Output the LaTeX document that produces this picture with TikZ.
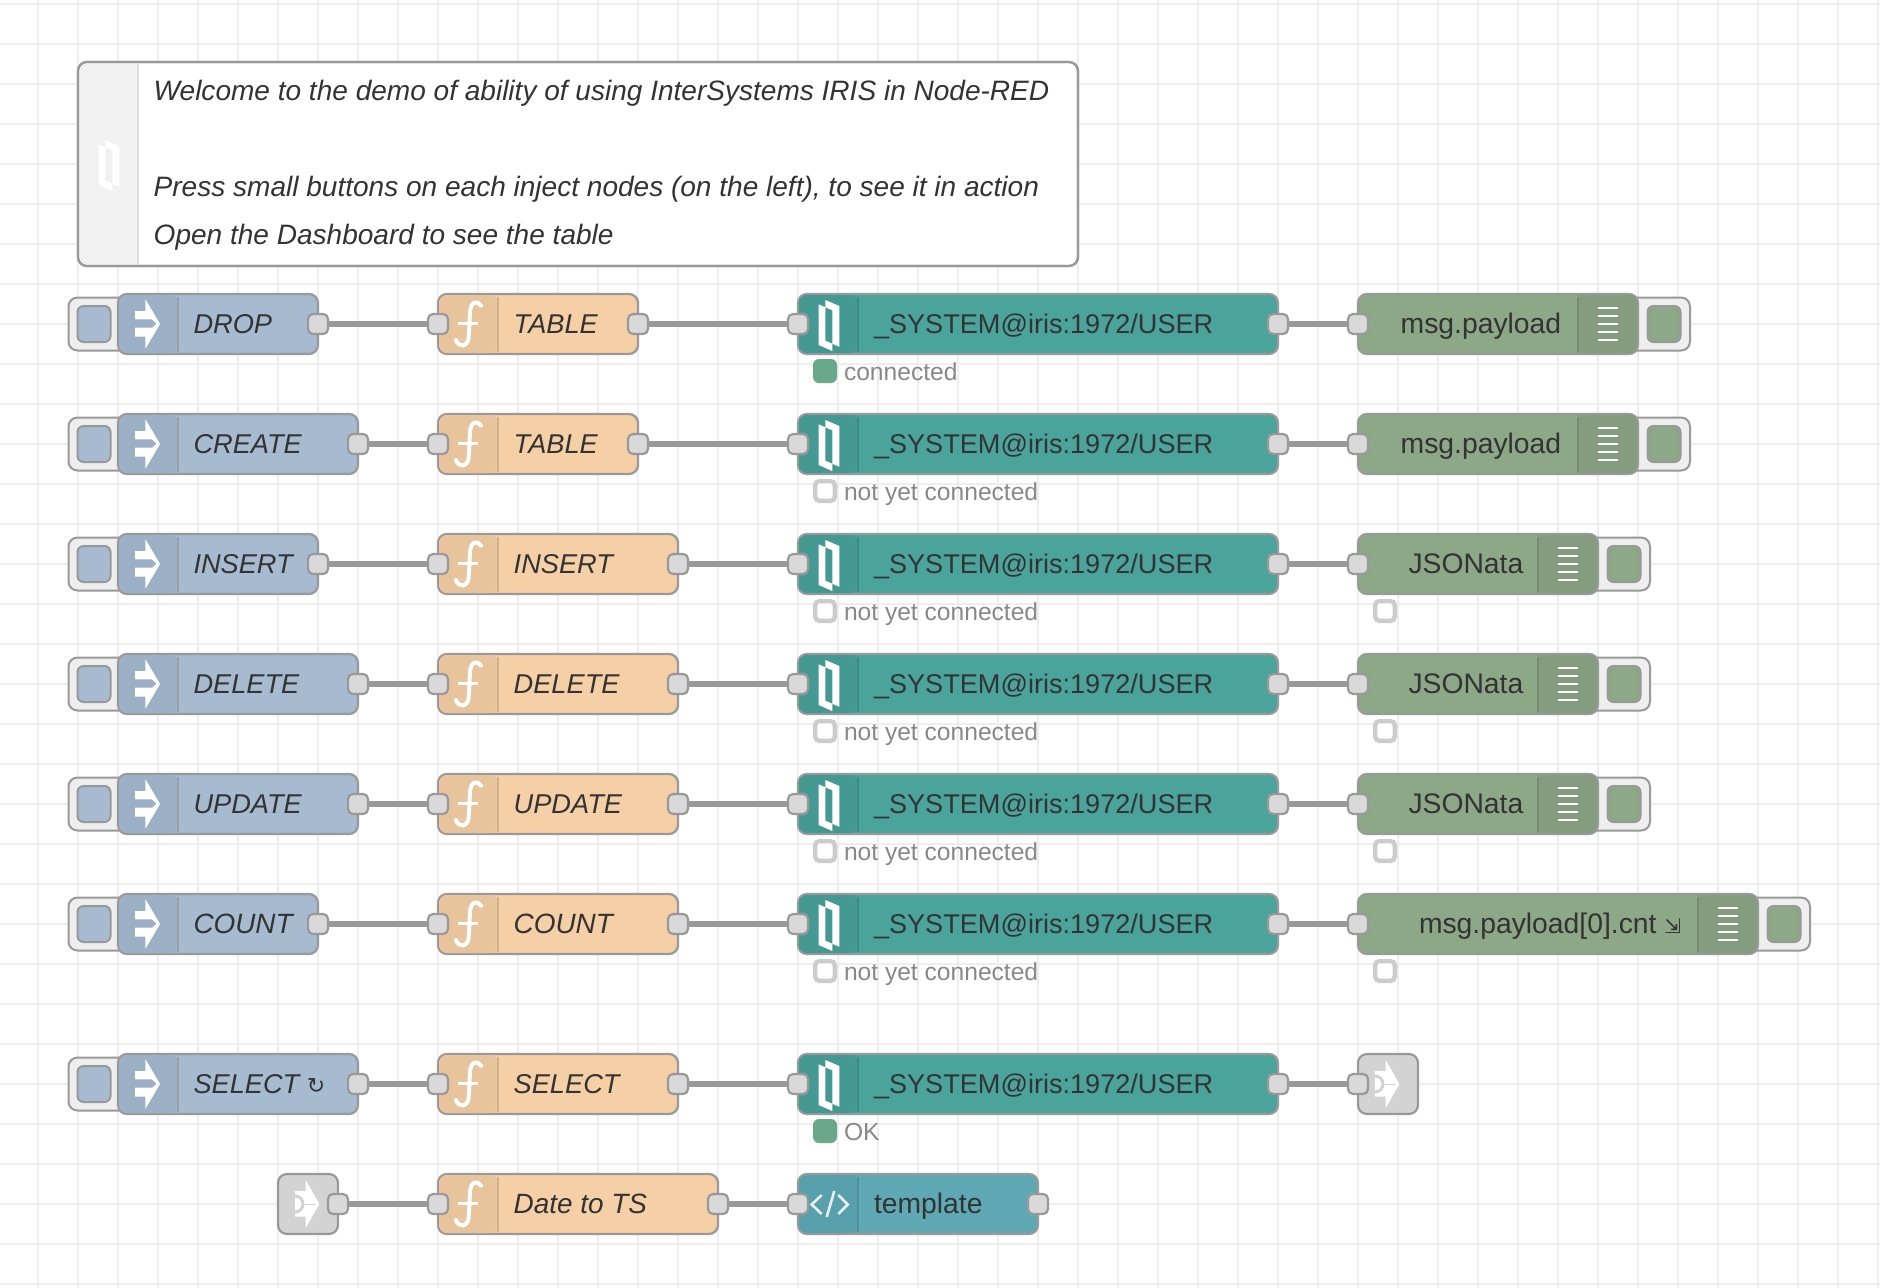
\documentclass[tikz,border=0pt]{standalone}
\usepackage{fontspec}
\setmainfont{Liberation Sans}
\newfontfamily\symfont{DejaVu Sans}
\definecolor{gridc}{HTML}{EEEEEE}
\definecolor{edgec}{HTML}{999999}
\definecolor{portc}{HTML}{D9D9D9}
\definecolor{txtc}{HTML}{333333}
\definecolor{statc}{HTML}{888888}
\definecolor{injc}{HTML}{A6BBCF}\definecolor{injd}{HTML}{9CB0C5}
\definecolor{fnc}{HTML}{F5CFA5}\definecolor{fnd}{HTML}{E8C49D}
\definecolor{irisc}{HTML}{4AA49C}\definecolor{irisd}{HTML}{449A92}
\definecolor{dbgc}{HTML}{8CA887}\definecolor{dbgd}{HTML}{839D7E}
\definecolor{tplc}{HTML}{5FA9B4}\definecolor{tpld}{HTML}{58A0AB}
\definecolor{linkc}{HTML}{D3D3D3}
\definecolor{okc}{HTML}{6AA88C}
\newcommand\widerlabel[1]{{\fontsize{27.9}{34}\selectfont #1}}
\tikzset{
 x=1pt,y=-1pt,
 nrbody/.style={draw=edgec,line width=2.2pt,rounded corners=9pt,inner sep=0pt,outer sep=0pt,minimum height=60pt},
 port/.style={draw=edgec,fill=portc,line width=2.2pt,rounded corners=5pt,inner sep=0pt,outer sep=0pt,minimum width=20pt,minimum height=20pt},
 wire/.style={draw=edgec,line width=5.5pt},
 btnbox/.style={draw=edgec,fill=gridc,line width=2pt,rounded corners=9pt,inner sep=0pt,outer sep=0pt,minimum height=53pt},
 btnface/.style={draw=edgec,line width=2pt,rounded corners=6pt,inner sep=0pt,outer sep=0pt,minimum width=33pt,minimum height=36pt},
 lbl/.style={anchor=base west,inner sep=0pt,outer sep=0pt,text=txtc,font=\fontsize{28.3}{34}\selectfont},
 irislbl/.style={lbl,font=\fontsize{27.1}{34}\selectfont},
 ilbl/.style={lbl,font=\fontsize{27.2}{34}\selectfont\itshape},
 notelbl/.style={lbl,font=\fontsize{28.04}{34}\selectfont\itshape},
 stat/.style={anchor=base west,inner sep=0pt,outer sep=0pt,text=statc,font=\fontsize{24.6}{30}\selectfont},
 dotfull/.style={fill=okc,rounded corners=6pt,inner sep=0pt,outer sep=0pt,minimum width=24pt,minimum height=24pt},
 dotempty/.style={draw=black!20,fill=white,line width=4.4pt,rounded corners=4pt,inner sep=0pt,outer sep=0pt,minimum width=19.6pt,minimum height=19.6pt},
}
% name, left, right, y, divider, fill, shade
\newcommand\nrbodyat[7]{%
 \node[nrbody,fill=#6,minimum width={#3pt-#2pt}] (#1) at ({(#2+#3)/2},#4) {};
 \fill[#7,rounded corners=8pt] (#5,#4-29) -- (#2+1,#4-29) -- (#2+1,#4+29) -- (#5,#4+29) -- cycle;
}
\newcommand\nrdivider[3]{\draw[#3,line width=1.6pt] (#1,#2-27.5) -- (#1,#2+27.5);}
\newcommand\irisglyph[3]{\begin{scope}[shift={(#1,#2)}]
 \fill[#3,even odd rule] (20.7,-19.7) -- (27.3,-16.7) -- (27.3,-24) -- (41.3,-18) -- (41.3,22.7) -- (34.3,19.7) -- (34.3,27) -- (20.7,21) -- cycle
 (27.3,-16.7) -- (34.3,-13.7) -- (34.3,19.7) -- (27.3,16.7) -- cycle;
\end{scope}}
\newcommand\injglyph[2]{\begin{scope}[shift={(#1,#2)}]
 \fill[white] (17,-13) -- (27.3,-13) -- (27.3,-25) -- (42,0) -- (27.3,25) -- (27.3,12.7) -- (17,12.7) -- (17,3.7) -- (34,3.7) -- (38.5,0) -- (34,-4.7) -- (17,-4.7) -- cycle;
\end{scope}}
\newcommand\fnglyph[2]{\begin{scope}[shift={(#1,#2)}]
 \draw[white,line width=4pt,line cap=round] (43,-18.3) .. controls (40.3,-23) and (33,-24) .. (32,-12.3) -- (30.7,12.7) .. controls (30.3,23.7) and (20.3,23.7) .. (18,16);
 \draw[white,line width=3.2pt] (20.3,-0.7) -- (40.3,-0.7);
\end{scope}}
\newcommand\listglyph[2]{\begin{scope}[shift={(#1,#2)}]
 \foreach \d in {-16,-8,0,8,16} \fill[white] (0,\d-1.35) rectangle (20,\d+1.35);
\end{scope}}
\newcommand\linkglyph[2]{\begin{scope}[shift={(#1,#2)}]
 \fill[white] (17,-13) -- (27.7,-13) -- (27.7,-24) -- (41.3,0) -- (27.7,24) -- (27.7,12.7) -- (17,12.7) -- cycle;
 \draw[linkc,line width=3pt] (17,-8) arc[start angle=-90,end angle=90,radius=8];
 \draw[linkc,line width=1pt] (25,0) -- (38,0);
\end{scope}}
% name, right, y, label
\newcommand\injnode[4]{%
 \node[btnbox,minimum width=70pt] (#1-box) at (103.5,#3) {};
 \node[btnface,fill=injc] (#1-btn) at (94,#3) {};
 \nrbodyat{#1}{118}{#2}{#3}{178}{injc}{injd}\nrdivider{178}{#3}{edgec!70!injd}
 \injglyph{118}{#3}
 \node[ilbl] (#1-t) at (193.5,#3+9.5) {#4};
 \node[port] (#1-o) at (#2,#3) {};
}
\newcommand\fnnode[4]{%
 \nrbodyat{#1}{438}{#2}{#3}{498}{fnc}{fnd}\nrdivider{498}{#3}{fnd!90!black}
 \fnglyph{438}{#3}
 \node[ilbl] (#1-t) at (513.7,#3+9.5) {#4};
 \node[port] (#1-i) at (438,#3) {};
 \node[port] (#1-o) at (#2,#3) {};
}
\newcommand\irisnode[2]{%
 \nrbodyat{#1}{798}{1278}{#2}{858}{irisc}{irisd}\nrdivider{858}{#2}{irisd!90!black}
 \irisglyph{798}{#2}{white}
 \node[irislbl] (#1-t) at (874,#2+9.5) {\_SYSTEM@iris:1972/USER};
 \node[port] (#1-i) at (798,#2) {};
 \node[port] (#1-o) at (1278,#2) {};
}
% name, right, y, label, label x
\newcommand\dbgnode[5]{%
 \node[btnbox,minimum width=70pt] (#1-box) at (#2+17,#3) {};
 \node[btnface,fill=dbgc] (#1-btn) at (#2+26,#3) {};
 \node[nrbody,fill=dbgc,minimum width={#2pt-1358pt}] (#1) at ({(1358+#2)/2},#3) {};
 \fill[dbgd,rounded corners=8pt] (#2-60,#3-29) -- (#2-1,#3-29) -- (#2-1,#3+29) -- (#2-60,#3+29) -- cycle;
 \fill[dbgd] (#2-60,#3-29) rectangle (#2-50,#3+29);
 \nrdivider{#2-60}{#3}{dbgd!90!black}
 \listglyph{#2-40}{#3}
 \node[lbl] (#1-t) at (#5,#3+9.5) {#4};
 \node[port] (#1-i) at (1358,#3) {};
}
\newcommand\statusdot[4]{\node[#4] (#1) at (#2,#3+47) {};}
\newcommand\statustxt[3]{\node[stat] (#1) at (844,#2+56) {#3};}
\begin{document}
\begin{tikzpicture}
\useasboundingbox (0,0) rectangle (1880,1288);
\fill[white] (0,0) rectangle (1880,1288);
\foreach \k in {0,...,46} \draw[gridc,line width=2pt] ({38+40*\k},0) -- ({38+40*\k},1288);
\foreach \k in {0,...,32} \draw[gridc,line width=2pt] (0,{4+40*\k}) -- (1880,{4+40*\k});

% comment
\node[nrbody,fill=white,minimum width=1000pt,minimum height=204pt] (note) at (578,164) {};
\fill[gridc!80!white,rounded corners=8pt] (138,63) -- (79,63) -- (79,265) -- (138,265) -- cycle;
\fill[gridc!80!white] (128,63) rectangle (138,265);
\draw[black!13,line width=1.6pt] (138,63.5) -- (138,264.5);
\draw[edgec,line width=2.2pt,rounded corners=9pt] (78,62) rectangle (1078,266);
\irisglyph{78}{164}{white}
\node[notelbl] (note-a) at (153.7,100.7) {Welcome to the demo of ability of using InterSystems IRIS in Node-RED};
\node[notelbl] (note-b) at (153.7,196.7) {Press small buttons on each inject nodes (on the left), to see it in action};
\node[notelbl] (note-c) at (153.7,244.7) {Open the Dashboard to see the table};

% inject nodes
\injnode{ia}{318}{324}{DROP}
\injnode{ib}{358}{444}{CREATE}
\injnode{ic}{318}{564}{INSERT}
\injnode{id}{358}{684}{DELETE}
\injnode{ie}{358}{804}{UPDATE}
\injnode{if}{318}{924}{\widerlabel{COUNT}}
\injnode{ig}{358}{1084}{SELECT {\symfont\upshape\fontsize{22}{24}\selectfont ↻}}

% function nodes
\fnnode{fa}{638}{324}{TABLE}
\fnnode{fb}{638}{444}{TABLE}
\fnnode{fc}{678}{564}{INSERT}
\fnnode{fd}{678}{684}{DELETE}
\fnnode{fe}{678}{804}{UPDATE}
\fnnode{ff}{678}{924}{\widerlabel{COUNT}}
\fnnode{fg}{678}{1084}{SELECT}
\fnnode{fh}{718}{1204}{\widerlabel{Date to TS}}

% IRIS nodes
\irisnode{na}{324}\irisnode{nb}{444}\irisnode{nc}{564}\irisnode{nd}{684}\irisnode{ne}{804}\irisnode{nf}{924}\irisnode{ng}{1084}

% status
\statusdot{sa}{825}{324}{dotfull}\statustxt{sat}{324}{connected}
\statusdot{sb}{825}{444}{dotempty}\statustxt{sbt}{444}{not yet connected}
\statusdot{sc}{825}{564}{dotempty}\statustxt{sct}{564}{not yet connected}
\statusdot{sd}{825}{684}{dotempty}\statustxt{sdt}{684}{not yet connected}
\statusdot{se}{825}{804}{dotempty}\statustxt{set}{804}{not yet connected}
\statusdot{sf}{825}{924}{dotempty}\statustxt{sft}{924}{not yet connected}
\statusdot{sg}{825}{1084}{dotfull}\statustxt{sgt}{1084}{OK}
\statusdot{tc}{1385}{564}{dotempty}
\statusdot{td}{1385}{684}{dotempty}
\statusdot{te}{1385}{804}{dotempty}
\statusdot{tf}{1385}{924}{dotempty}

% debug nodes
\dbgnode{da}{1638}{324}{msg.payload}{1400.7}
\dbgnode{db}{1638}{444}{msg.payload}{1400.7}
\dbgnode{dc}{1598}{564}{JSONata}{1408.5}
\dbgnode{dd}{1598}{684}{JSONata}{1408.5}
\dbgnode{de}{1598}{804}{JSONata}{1408.5}
\dbgnode{df}{1758}{924}{msg.payload[0].cnt {\symfont\fontsize{20}{24}\selectfont ⇲}}{1419}

% link out
\node[nrbody,fill=linkc,minimum width=60pt] (lo) at (1388,1084) {};
\linkglyph{1358}{1084}
\node[port] (lo-i) at (1358,1084) {};
% link in
\node[nrbody,fill=linkc,minimum width=60pt] (li) at (308,1204) {};
\linkglyph{278}{1204}
\node[port] (li-o) at (338,1204) {};

% template
\nrbodyat{tp}{798}{1038}{1204}{858}{tplc}{tpld}\nrdivider{858}{1204}{tpld!90!black}
\draw[white,opacity=.85,line width=2.6pt] (821.7,1195) -- (811.7,1204.5) -- (821.7,1214);
\draw[white,opacity=.85,line width=2.6pt] (834.3,1191) -- (826.7,1217);
\draw[white,opacity=.85,line width=2.6pt] (838.3,1195) -- (847.7,1204.5) -- (838.3,1214);
\node[lbl] (tp-t) at (874,1213.5) {template};
\node[port] (tp-i) at (798,1204) {};
\node[port] (tp-o) at (1038,1204) {};

% wires
\foreach \a/\b in {ia/fa,ib/fb,ic/fc,id/fd,ie/fe,if/ff,ig/fg,fa/na,fb/nb,fc/nc,fd/nd,fe/ne,ff/nf,fg/ng,na/da,nb/db,nc/dc,nd/dd,ne/de,nf/df,ng/lo,li/fh,fh/tp}
  \draw[wire] (\a-o.east) -- (\b-i.west);
\end{tikzpicture}
\end{document}
